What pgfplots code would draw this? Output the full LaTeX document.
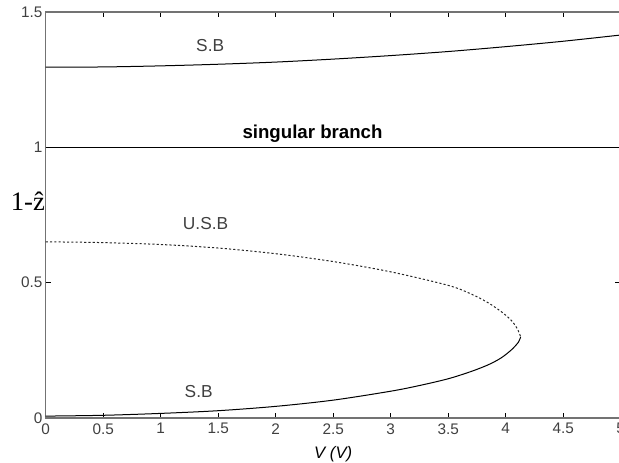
\documentclass[border=0pt]{standalone}
\usepackage{fontspec}
\setmainfont{Liberation Sans}
\newfontfamily\timesfont{Liberation Serif}
\usepackage{pgfplots}
\pgfplotsset{compat=1.18}

\begin{document}
\begin{tikzpicture}
\begin{axis}[
  at={(34.3pt,33pt)}, anchor=south west,
  scale only axis,
  width=431.25pt, height=304.5pt,
  xmin=0, xmax=5, ymin=0, ymax=1.5,
  xtick={0,0.5,...,5},
  ytick={0,0.5,1,1.5},
  xticklabels={0,0.5,1,1.5,2,2.5,3,3.5,4,4.5,5},
  yticklabels={0,0.5,1,1.5},
  tick align=inside,
  major tick length=4pt,
  tick style={black, line width=0.6pt},
  axis line style={black!55, line width=1pt},
  ticklabel style={font=\fontsize{11.5}{13}\selectfont, text=black!75},
  xticklabel style={yshift=-0.5pt},
  yticklabel style={xshift=1pt},
  xlabel={\itshape V (V)},
  xlabel style={font=\fontsize{12.5}{14}\selectfont, yshift=-2pt},
  clip=false,
]
% stable branch near 1.3
\addplot[black, line width=0.75pt, smooth] coordinates {
  (0,1.296) (0.5,1.297) (1,1.301) (1.5,1.307) (2,1.315) (2.5,1.326)
  (3,1.339) (3.5,1.354) (4,1.372) (4.5,1.392) (5,1.415)};
% singular branch
\addplot[black, line width=0.75pt] coordinates {(0,1) (5,1)};
% unstable branch
\addplot[black!85, line width=0.75pt, dash pattern=on 1.6pt off 1.6pt, smooth] coordinates {
  (0,0.651) (0.5,0.648) (1.0,0.641) (1.5,0.628) (2.0,0.607) (2.5,0.578)
  (3.0,0.540) (3.5,0.490) (3.7,0.458) (3.85,0.425) (3.97,0.390)
  (4.05,0.360) (4.10,0.330) (4.13,0.300)};
% lower stable branch
\addplot[black, line width=0.75pt, smooth] coordinates {
  (0,0.007) (0.5,0.010) (1.0,0.017) (1.5,0.027) (2.0,0.043) (2.5,0.066)
  (3.0,0.099) (3.25,0.120) (3.5,0.145) (3.7,0.172) (3.85,0.197)
  (3.96,0.222) (4.05,0.252) (4.11,0.280) (4.13,0.300)};

\node[font=\fontsize{13}{15}\selectfont, text=black!75] at (axis cs:1.43,1.375) {S.B};
\node[font=\bfseries\fontsize{14}{16}\selectfont] at (axis cs:2.32,1.052) {singular branch};
\node[font=\fontsize{13}{15}\selectfont, text=black!75] at (axis cs:1.39,0.72) {U.S.B};
\node[font=\fontsize{13}{15}\selectfont, text=black!75] at (axis cs:1.33,0.098) {S.B};
\node[anchor=east, inner sep=0pt, font=\timesfont\fontsize{20}{23}\selectfont]
  at (axis description cs:-0.001,0.535) {1-\^{z}};
\end{axis}
\pgfresetboundingbox
\useasboundingbox (0,0) rectangle (464.25pt,346.5pt);
\end{tikzpicture}
\end{document}
